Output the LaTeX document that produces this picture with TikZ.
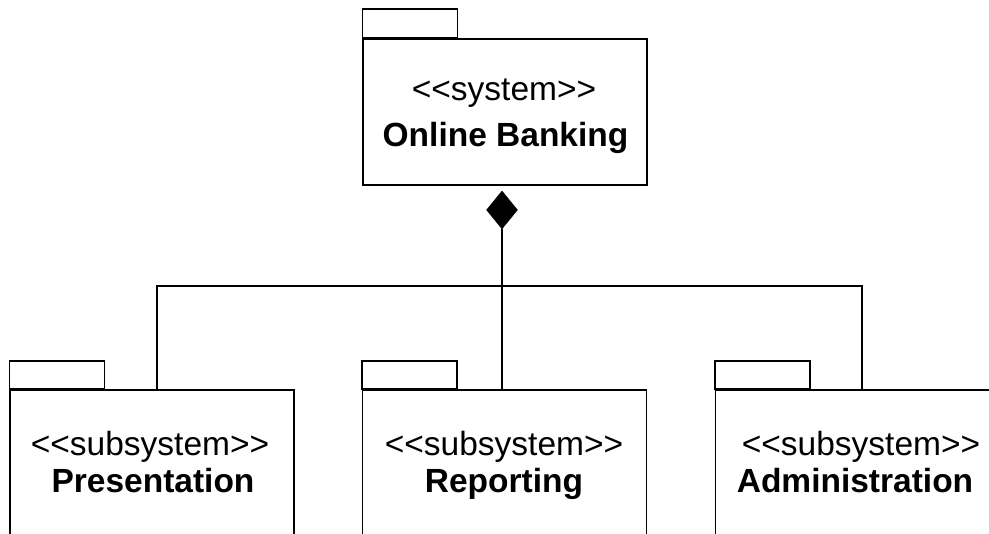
\documentclass[tikz,border=0pt]{standalone}
\usepackage{fontspec}
\setmainfont[Ligatures=TeXOff]{Liberation Sans}
\usetikzlibrary{shapes.geometric,positioning}

\tikzset{
  pkgbody/.style={draw, line width=1.5pt, minimum width=284pt, inner sep=0pt},
  pkgtab/.style={draw, line width=1.5pt},
  stereo/.style={anchor=base, inner sep=0pt, font=\fontsize{33.5}{40}\selectfont},
  pkgname/.style={stereo, font=\fontsize{33.5}{40}\selectfont\bfseries},
  link/.style={line width=1.5pt}
}

\begin{document}
\begin{tikzpicture}[x=1pt,y=-1pt]
\useasboundingbox (0,0) rectangle (989,534);
\clip (0,0) rectangle (989,534);

% package bodies
\node[pkgbody, minimum height=146pt] (sys) at (505,112) {};
\node[pkgbody, minimum height=170pt] (pres) at (152,475) {};
\node[pkgbody, minimum height=170pt] (rep) at (504.5,475) {};
\node[pkgbody, minimum height=170pt] (adm) at (857.5,475) {};

% tabs
\draw[pkgtab] (sys.north west) rectangle ++(95,-29);
\foreach \p in {pres,rep,adm}
  \draw[pkgtab] (\p.north west) rectangle ++(95,-28);

% texts
\node[stereo] (sys-st) at (504,101) {<<system>>};
\node[pkgname] (sys-nm) at (505.5,147) {Online Banking};
\node[stereo] (pres-st) at (150,456) {<<subsystem>>};
\node[pkgname] (pres-nm) at (153,493) {Presentation};
\node[stereo] (rep-st) at (504,456) {<<subsystem>>};
\node[pkgname] (rep-nm) at (504,493) {Reporting};
\node[stereo] (adm-st) at (861,456) {<<subsystem>>};
\node[pkgname] (adm-nm) at (855,493) {Administration};

% composition
\node[diamond, draw, fill, inner sep=0pt, minimum width=31pt, minimum height=38pt,
      below=5pt of sys, xshift=-3pt] (comp) {};
\coordinate (bus) at (comp.south |- 0,286);

\draw[link] (comp.south) -- (bus);
\draw[link] (bus) -- (bus |- rep.north);
\draw[link] ([xshift=5pt]pres.north) |- (bus) -| ([xshift=4.5pt]adm.north);

\end{tikzpicture}
\end{document}
